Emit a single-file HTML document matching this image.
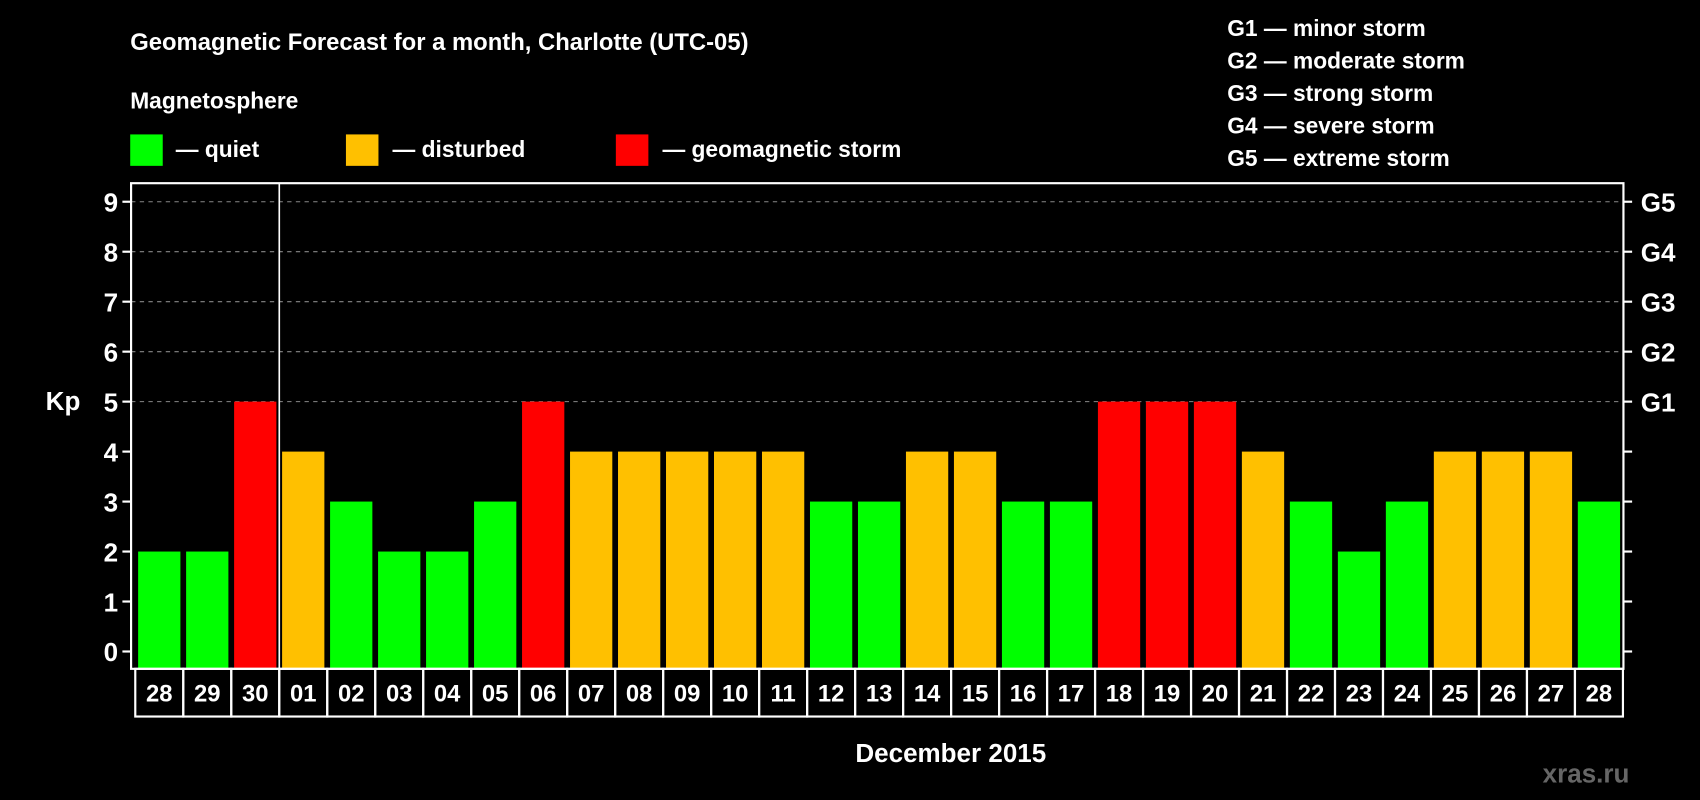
<!DOCTYPE html>
<html><head><meta charset="utf-8"><style>
html,body{margin:0;padding:0;background:#000;width:1700px;height:800px;overflow:hidden}
svg{display:block}
text{font-family:"Liberation Sans",Arial,sans-serif;font-weight:bold;fill:#fff}
</style></head><body>
<svg id="c" width="1700" height="800" viewBox="0 0 1568 738" xmlns="http://www.w3.org/2000/svg">
<rect width="1568" height="738" fill="#000"/>
<text x="120" y="46" font-size="22">Geomagnetic Forecast for a month, Charlotte (UTC-05)</text>
<text x="120" y="100" font-size="21">Magnetosphere</text>
<g><rect x="120" y="124" width="30" height="29" fill="#00ff00"/><text x="162" y="145" font-size="21">— quiet</text></g>
<g><rect x="319" y="124" width="30" height="29" fill="#ffc000"/><text x="362" y="145" font-size="21">— disturbed</text></g>
<g><rect x="568" y="124" width="30" height="29" fill="#ff0000"/><text x="611" y="145" font-size="21">— geomagnetic storm</text></g>
<g font-size="21">
<text x="1132" y="33">G1 — minor storm</text>
<text x="1132" y="63">G2 — moderate storm</text>
<text x="1132" y="93">G3 — strong storm</text>
<text x="1132" y="123">G4 — severe storm</text>
<text x="1132" y="153">G5 — extreme storm</text>
</g>
<text x="58" y="378" font-size="24" text-anchor="middle">Kp</text>
<text x="877" y="703" font-size="24" text-anchor="middle">December 2015</text>
<text x="1503" y="722" font-size="24" text-anchor="end" style="fill:#666">xras.ru</text>
<g id="grid"></g><g id="bars"></g><g id="axes"></g>
</svg>
<script>
const days=["28","29","30","01","02","03","04","05","06","07","08","09","10","11","12","13","14","15","16","17","18","19","20","21","22","23","24","25","26","27","28"];
const kp=[2,2,5,4,3,2,2,3,5,4,4,4,4,4,3,3,4,4,3,3,5,5,5,4,3,2,3,4,4,4,3];
const yTicks=[0,1,2,3,4,5,6,7,8,9];
const gLabels=["G1","G2","G3","G4","G5"];
const NS="http://www.w3.org/2000/svg";
const L=120.8,R=1497.5,T=169,B=617,pitch=44.27,x0=127.3,bw=39;
const y=v=>601-v*46.1;
const x=i=>x0+i*pitch;
function mk(t,a,p){const e=document.createElementNS(NS,t);for(const k in a)e.setAttribute(k,a[k]);p.appendChild(e);return e;}
const grid=document.getElementById('grid'),bars=document.getElementById('bars'),axes=document.getElementById('axes');
yTicks.forEach(v=>{
 if(v>=5){const g=mk('line',{x1:L,x2:R,y1:y(v),y2:y(v),stroke:'#888','stroke-dasharray':'4,4','stroke-width':1},grid);
 
 }
 const t=mk('line',{x1:L-8,x2:L,y1:y(v),y2:y(v),stroke:'#fff','stroke-width':2},axes);
 
 
 const t2=mk('line',{x1:R,x2:R+8,y1:y(v),y2:y(v),stroke:'#fff','stroke-width':2},axes);
 
 
 const l=mk('text',{x:L-12,y:y(v)+9,'font-size':24,'text-anchor':'end'},axes);l.textContent=v;
 
 
});
gLabels.forEach((g,i)=>{const l=mk('text',{x:R+16,y:y(5+i)+9,'font-size':24},axes);l.textContent=g;
 
 });
kp.forEach((v,i)=>{
 const c=v>=5?'#ff0000':v>=4?'#ffc000':'#00ff00';
 const r=mk('rect',{x:x(i),y:y(v),width:bw,height:B-y(v),fill:c},bars);
 
 
});
const fr=mk('rect',{x:L,y:T,width:R-L,height:B-T,fill:'none',stroke:'#fff','stroke-width':2},axes);


const dv=mk('line',{x1:x(3)-2.6,x2:x(3)-2.6,y1:T,y2:B,stroke:'#fff','stroke-width':1.5},axes);


days.forEach((d,i)=>{
 const cx=x(i)+bw/2;
 const b=mk('rect',{x:cx-pitch/2,y:B,width:pitch,height:44,fill:'none',stroke:'#fff','stroke-width':2},axes);
 
 
 const t=mk('text',{x:cx,y:B+30,'font-size':22,'text-anchor':'middle'},axes);t.textContent=d;
 
 
});
</script>
</body></html>
